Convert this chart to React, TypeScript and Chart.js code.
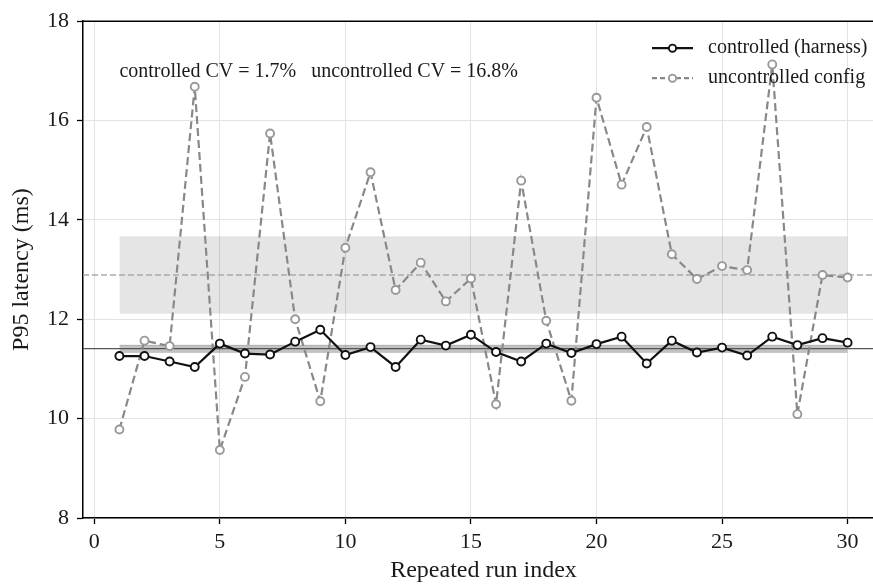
import React, { useEffect, useRef } from "react";
import { Chart, registerables } from "chart.js";

Chart.register(...registerables);

// ---- data ----
const runIndex = [1, 2, 3, 4, 5, 6, 7, 8, 9, 10, 11, 12, 13, 14, 15, 16, 17, 18, 19, 20, 21, 22, 23, 24, 25, 26, 27, 28, 29, 30];
const controlled = [11.26, 11.26, 11.15, 11.04, 11.51, 11.31, 11.29, 11.55, 11.79, 11.28, 11.44, 11.04, 11.59, 11.47, 11.69, 11.34, 11.15, 11.51, 11.32, 11.5, 11.65, 11.11, 11.57, 11.33, 11.43, 11.27, 11.65, 11.48, 11.62, 11.53];
const uncontrolled = [9.78, 11.57, 11.46, 16.68, 9.37, 10.84, 15.74, 12.0, 10.35, 13.44, 14.96, 12.59, 13.14, 12.36, 12.82, 10.29, 14.79, 11.97, 10.36, 16.46, 14.71, 15.87, 13.31, 12.81, 13.07, 12.99, 17.13, 10.09, 12.89, 12.84];
const controlledMean = 11.41;
const controlledBand = [11.33, 11.48];
const uncontrolledMean = 12.89;
const uncontrolledBand = [12.12, 13.66];
const bandRange = [1, 30];
const xRange = [-0.45, 31.45];
const yRange = [8, 18];
const xTicks = [0, 5, 10, 15, 20, 25, 30];
const yTicks = [8, 10, 12, 14, 16, 18];
const seriesLabels = ["controlled (harness)", "uncontrolled config"];
const annotationText = "controlled CV = 1.7%   uncontrolled CV = 16.8%";
const annotationPos = { x: 1, y: 16.88 };
const xTitle = "Repeated run index";
const yTitle = "P95 latency (ms)";

const FONT = "'Liberation Serif', 'Times New Roman', serif";
const CANVAS_W = 890;
const CANVAS_H = 584;
const CTRL_COLOR = "#111111";
const UNC_COLOR = "#888888";
const UNC_MARKER = "#999999";

const topBorderPlugin = {
  id: "topBorder",
  afterDatasetsDraw(chart: any) {
    const { ctx, chartArea } = chart;
    ctx.save();
    ctx.strokeStyle = "#000";
    ctx.lineWidth = 1.5;
    ctx.beginPath();
    ctx.moveTo(chartArea.left, chartArea.top);
    ctx.lineTo(chartArea.right, chartArea.top);
    ctx.lineTo(chartArea.right, chartArea.bottom);
    ctx.stroke();
    ctx.restore();
  },
};

const annotationPlugin = {
  id: "cvAnnotation",
  afterDatasetsDraw(chart: any) {
    const { ctx, scales } = chart;
    const px = scales.x.getPixelForValue(annotationPos.x);
    const py = scales.y.getPixelForValue(annotationPos.y);
    ctx.save();
    ctx.font = `20px ${FONT}`;
    ctx.fillStyle = "#1a1a1a";
    ctx.textAlign = "left";
    ctx.textBaseline = "alphabetic";
    ctx.fillText(annotationText, px, py);
    ctx.restore();
  },
};

const legendPlugin = {
  id: "customLegend",
  afterDatasetsDraw(chart: any) {
    const { ctx, chartArea } = chart;
    const items = [
      { label: seriesLabels[0], color: CTRL_COLOR, marker: CTRL_COLOR, dash: [] as number[] },
      { label: seriesLabels[1], color: UNC_COLOR, marker: UNC_MARKER, dash: [5, 3] },
    ];
    const x0 = chartArea.right - 232;
    const x1 = chartArea.right - 191;
    const tx = chartArea.right - 176;
    ctx.save();
    items.forEach((it, i) => {
      const y = chartArea.top + 27 + i * 30;
      ctx.strokeStyle = it.color;
      ctx.lineWidth = 2.2;
      ctx.setLineDash(it.dash);
      ctx.beginPath();
      ctx.moveTo(x0, y);
      ctx.lineTo(x1, y);
      ctx.stroke();
      ctx.setLineDash([]);
      ctx.beginPath();
      ctx.arc((x0 + x1) / 2, y, 3.6, 0, Math.PI * 2);
      ctx.fillStyle = "#fff";
      ctx.fill();
      ctx.lineWidth = 1.9;
      ctx.strokeStyle = it.marker;
      ctx.stroke();
      ctx.font = `20px ${FONT}`;
      ctx.fillStyle = "#1a1a1a";
      ctx.textAlign = "left";
      ctx.textBaseline = "middle";
      ctx.fillText(it.label, tx, y);
    });
    ctx.restore();
  },
};

function hline(y: number, x0: number, x1: number) {
  return [
    { x: x0, y },
    { x: x1, y },
  ];
}

export default function App() {
  const ref = useRef<HTMLCanvasElement>(null);

  useEffect(() => {
    if (!ref.current) return;
    const tickFont = { family: FONT, size: 22 };
    const titleFont = { family: FONT, size: 24, lineHeight: 1.1 };
    const chart = new Chart(ref.current, {
      type: "line",
      data: {
        datasets: [
          {
            label: seriesLabels[0],
            data: runIndex.map((x, i) => ({ x, y: controlled[i] })),
            borderColor: CTRL_COLOR,
            borderWidth: 2.2,
            pointRadius: 4,
            pointBorderWidth: 1.9,
            pointBackgroundColor: "#fff",
            pointBorderColor: CTRL_COLOR,
            tension: 0,
            fill: false,
            order: 1,
          },
          {
            label: seriesLabels[1],
            data: runIndex.map((x, i) => ({ x, y: uncontrolled[i] })),
            borderColor: UNC_COLOR,
            borderWidth: 2.2,
            borderDash: [8, 4],
            pointRadius: 4,
            pointBorderWidth: 1.9,
            pointBackgroundColor: "#fff",
            pointBorderColor: UNC_MARKER,
            tension: 0,
            fill: false,
            order: 2,
          },
          {
            label: "ctrl mean",
            data: hline(controlledMean, xRange[0], xRange[1]),
            borderColor: "#555",
            borderWidth: 1.4,
            pointRadius: 0,
            fill: false,
            order: 5,
          },
          {
            label: "unc mean",
            data: hline(uncontrolledMean, xRange[0], xRange[1]),
            borderColor: "#aaa",
            borderWidth: 1.4,
            borderDash: [6, 3],
            pointRadius: 0,
            fill: false,
            order: 6,
          },
          {
            label: "ctrl band hi",
            data: hline(controlledBand[1], bandRange[0], bandRange[1]),
            borderColor: "rgba(0,0,0,0.12)",
            borderWidth: 1,
            backgroundColor: "rgba(0,0,0,0.24)",
            pointRadius: 0,
            fill: "+1",
            order: 8,
          },
          {
            label: "ctrl band lo",
            data: hline(controlledBand[0], bandRange[0], bandRange[1]),
            borderColor: "rgba(0,0,0,0.12)",
            borderWidth: 1,
            pointRadius: 0,
            fill: false,
            order: 8,
          },
          {
            label: "unc band hi",
            data: hline(uncontrolledBand[1], bandRange[0], bandRange[1]),
            borderColor: "rgba(0,0,0,0.06)",
            borderWidth: 1,
            backgroundColor: "rgba(0,0,0,0.1)",
            pointRadius: 0,
            fill: "+1",
            order: 10,
          },
          {
            label: "unc band lo",
            data: hline(uncontrolledBand[0], bandRange[0], bandRange[1]),
            borderColor: "rgba(0,0,0,0.06)",
            borderWidth: 1,
            pointRadius: 0,
            fill: false,
            order: 10,
          },
        ],
      },
      options: {
        responsive: false,
        animation: false,
        events: [],
        layout: { padding: { top: 18, right: CANVAS_W - 884, left: 0, bottom: 0 } },
        plugins: {
          legend: { display: false },
          tooltip: { enabled: false },
        },
        scales: {
          x: {
            type: "linear",
            min: xRange[0],
            max: xRange[1],
            afterBuildTicks: (s: any) => {
              s.ticks = xTicks.map((v) => ({ value: v }));
            },
            afterFit: (s: any) => {
              s.height = 66;
            },
            ticks: { font: tickFont, color: "#1a1a1a", padding: 5, maxRotation: 0, autoSkip: false },
            grid: { color: "#e3e3e3", lineWidth: 1, tickColor: "#000", tickLength: 6, tickWidth: 1.3 },
            border: { color: "#000", width: 1.5 },
            title: { display: true, text: xTitle, font: titleFont, color: "#1a1a1a", padding: 0 },
          },
          y: {
            type: "linear",
            min: yRange[0],
            max: yRange[1],
            afterBuildTicks: (s: any) => {
              s.ticks = yTicks.map((v) => ({ value: v }));
            },
            afterFit: (s: any) => {
              s.width = 83;
            },
            ticks: { font: tickFont, color: "#1a1a1a", padding: 8, autoSkip: false },
            grid: { color: "#e3e3e3", lineWidth: 1, tickColor: "#000", tickLength: 6, tickWidth: 1.3 },
            border: { color: "#000", width: 1.5 },
            title: { display: true, text: yTitle, font: titleFont, color: "#1a1a1a", padding: { top: 9, bottom: 0 } },
          },
        },
      },
      plugins: [topBorderPlugin, annotationPlugin, legendPlugin],
    } as any);
    return () => chart.destroy();
  }, []);

  return (
    <div style={{ position: "absolute", left: 0, top: 0, width: 873, height: CANVAS_H, overflow: "hidden", background: "#fff" }}>
      <canvas ref={ref} width={CANVAS_W} height={CANVAS_H} style={{ width: CANVAS_W, height: CANVAS_H, display: "block" }} />
    </div>
  );
}
